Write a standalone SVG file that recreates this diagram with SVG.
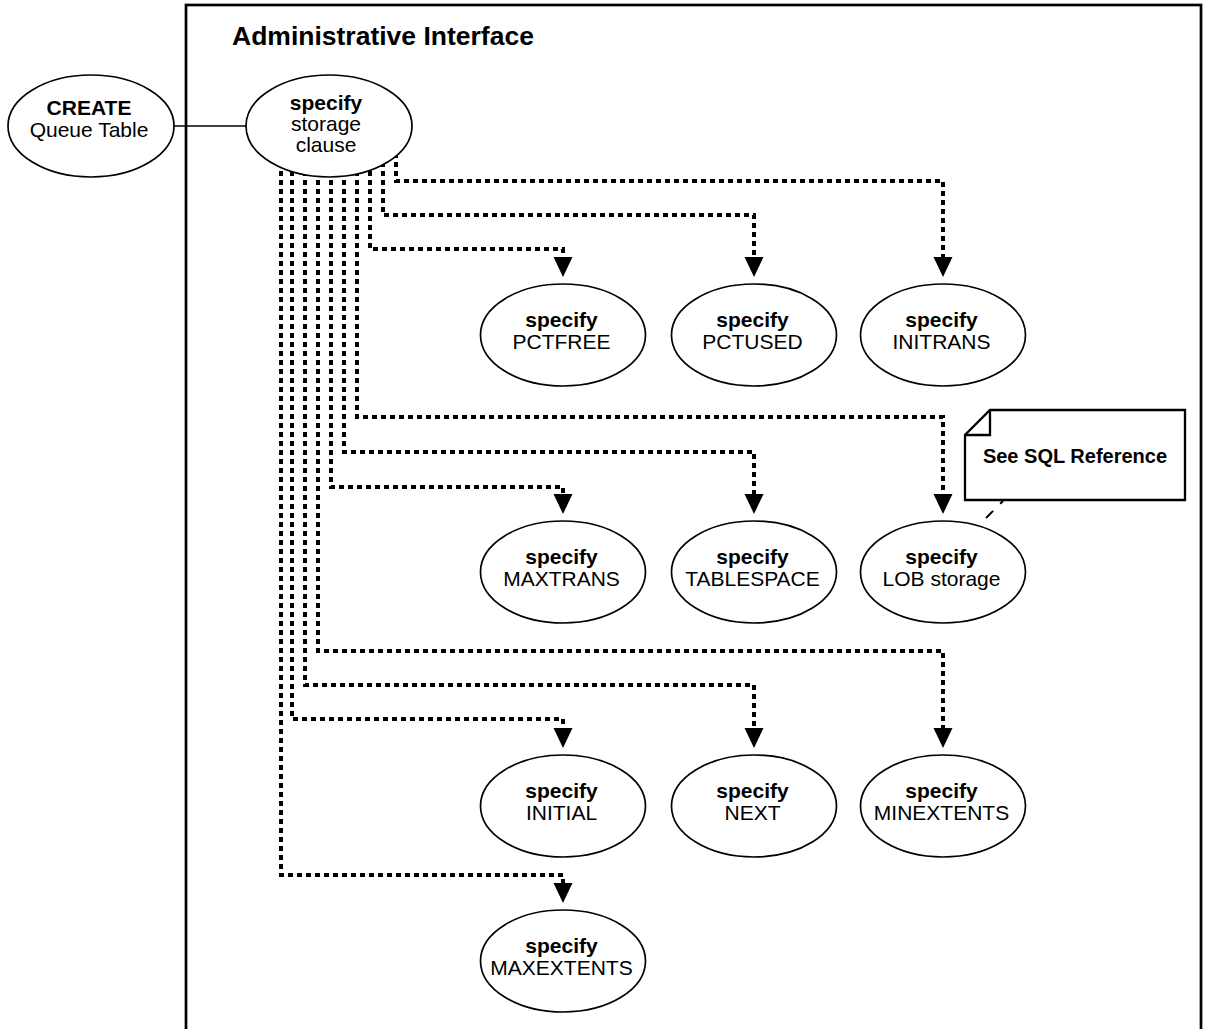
<svg xmlns="http://www.w3.org/2000/svg" width="1206" height="1029" viewBox="0 0 1206 1029">
  <defs>
    <!-- solid arrowhead placed at the end of each dotted flow -->
    <marker id="arrow" markerUnits="userSpaceOnUse" viewBox="0 -10 21 20" markerWidth="21" markerHeight="20" refX="0" refY="0" orient="auto" overflow="visible">
      <path d="M0,-9.5 L20,0 L0,9.5 Z" fill="#000"/>
    </marker>
  </defs>
  <style>
    .frame { fill: none; stroke: #000; stroke-width: 2.7; }
    .title { font-family: "Liberation Sans", Arial, sans-serif; font-weight: bold; font-size: 26.5px; fill: #000; }
    .node ellipse { fill: #fff; stroke: #000; stroke-width: 1.7; }
    .node text { font-family: "Liberation Sans", Arial, sans-serif; font-size: 21px; text-anchor: middle; fill: #000; }
    .b { font-weight: bold; }
    .flow { fill: none; stroke: #000; stroke-width: 4; stroke-dasharray: 5 4; marker-end: url(#arrow); }
    .link { stroke: #000; stroke-width: 1.3; }
    .note-body { fill: #fff; stroke: #000; stroke-width: 2.3; }
    .note-fold { fill: none; stroke: #000; stroke-width: 2.3; }
    .note-text { font-family: "Liberation Sans", Arial, sans-serif; font-weight: bold; font-size: 20px; text-anchor: middle; fill: #000; }
    .note-link { stroke: #000; stroke-width: 2; stroke-dasharray: 4 10 10 10; }
  </style>

  <rect width="1206" height="1029" fill="#fff"/>

  <!-- interface frame, open at the bottom edge -->
  <g id="frame">
    <rect class="frame" x="186" y="5" width="1015" height="1100"/>
    <text class="title" x="232" y="45">Administrative Interface</text>
  </g>

  <g id="connectors">
    <line class="link" x1="174" y1="126" x2="246" y2="126"/>
    <!-- row 1 -->
    <path class="flow" d="M396,126 V181 H943 V257"/>
    <path class="flow" d="M383,126 V215 H754 V257"/>
    <path class="flow" d="M370,126 V249 H563 V257"/>
    <!-- row 2 -->
    <path class="flow" d="M357,126 V417 H943 V494"/>
    <path class="flow" d="M344,126 V452 H754 V494"/>
    <path class="flow" d="M331,126 V487 H563 V494"/>
    <!-- row 3 -->
    <path class="flow" d="M318,126 V651 H943 V728"/>
    <path class="flow" d="M305,126 V685 H754 V728"/>
    <path class="flow" d="M292,126 V719 H563 V728"/>
    <!-- row 4 -->
    <path class="flow" d="M281,126 V875 H563 V883"/>
    <!-- note attachment -->
    <line class="note-link" x1="1003" y1="501" x2="983" y2="521"/>
  </g>

  <g id="create-queue-table" class="node">
    <ellipse cx="91" cy="126" rx="83" ry="51"/>
    <text x="89" y="115" class="b">CREATE</text>
    <text x="89" y="137">Queue Table</text>
  </g>

  <g id="storage-clause" class="node">
    <ellipse cx="329" cy="126" rx="83" ry="51"/>
    <text x="326" y="110" class="b">specify</text>
    <text x="326" y="131">storage</text>
    <text x="326" y="152">clause</text>
  </g>

  <g id="pctfree" class="node">
    <ellipse cx="563" cy="335" rx="82.5" ry="51"/>
    <text x="561.5" y="327" class="b">specify</text>
    <text x="561.5" y="349">PCTFREE</text>
  </g>

  <g id="pctused" class="node">
    <ellipse cx="754" cy="335" rx="82.5" ry="51"/>
    <text x="752.5" y="327" class="b">specify</text>
    <text x="752.5" y="349">PCTUSED</text>
  </g>

  <g id="initrans" class="node">
    <ellipse cx="943" cy="335" rx="82.5" ry="51"/>
    <text x="941.5" y="327" class="b">specify</text>
    <text x="941.5" y="349">INITRANS</text>
  </g>

  <g id="maxtrans" class="node">
    <ellipse cx="563" cy="572" rx="82.5" ry="51"/>
    <text x="561.5" y="564" class="b">specify</text>
    <text x="561.5" y="586">MAXTRANS</text>
  </g>

  <g id="tablespace" class="node">
    <ellipse cx="754" cy="572" rx="82.5" ry="51"/>
    <text x="752.5" y="564" class="b">specify</text>
    <text x="752.5" y="586">TABLESPACE</text>
  </g>

  <g id="lob-storage" class="node">
    <ellipse cx="943" cy="572" rx="82.5" ry="51"/>
    <text x="941.5" y="564" class="b">specify</text>
    <text x="941.5" y="586">LOB storage</text>
  </g>

  <g id="initial" class="node">
    <ellipse cx="563" cy="806" rx="82.5" ry="51"/>
    <text x="561.5" y="798" class="b">specify</text>
    <text x="561.5" y="820">INITIAL</text>
  </g>

  <g id="next" class="node">
    <ellipse cx="754" cy="806" rx="82.5" ry="51"/>
    <text x="752.5" y="798" class="b">specify</text>
    <text x="752.5" y="820">NEXT</text>
  </g>

  <g id="minextents" class="node">
    <ellipse cx="943" cy="806" rx="82.5" ry="51"/>
    <text x="941.5" y="798" class="b">specify</text>
    <text x="941.5" y="820">MINEXTENTS</text>
  </g>

  <g id="maxextents" class="node">
    <ellipse cx="563" cy="961" rx="82.5" ry="51"/>
    <text x="561.5" y="953" class="b">specify</text>
    <text x="561.5" y="975">MAXEXTENTS</text>
  </g>

  <g id="note-sql-reference">
    <path class="note-body" d="M990,410 H1185 V500 H965 V435 Z"/>
    <path class="note-fold" d="M990,410 V435 H965"/>
    <text class="note-text" x="1075" y="463">See SQL Reference</text>
  </g>
</svg>
